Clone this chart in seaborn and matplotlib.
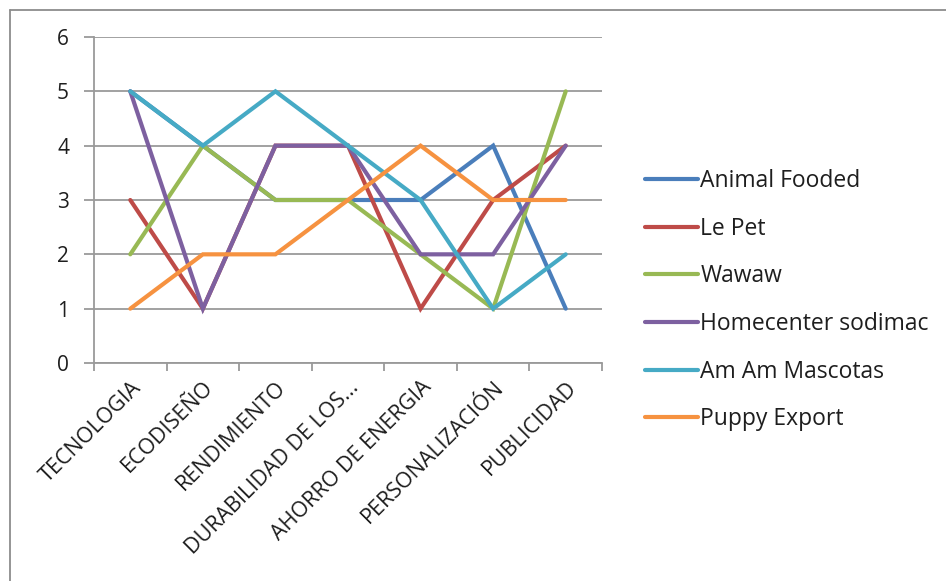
import matplotlib
matplotlib.use("Agg")
import matplotlib.pyplot as plt
from matplotlib.lines import Line2D
from matplotlib.transforms import ScaledTranslation
import seaborn as sns
import pandas as pd
import numpy as np

categories = ["TECNOLOGIA", "ECODISEÑO", "RENDIMIENTO", "DURABILIDAD DE LOS...",
              "AHORRO DE ENERGIA", "PERSONALIZACIÓN", "PUBLICIDAD"]

animal_fooded = [5, 4, 3, 3, 3, 4, 1]
le_pet = [3, 1, 4, 4, 1, 3, 4]
wawaw = [2, 4, 3, 3, 2, 1, 5]
homecenter_sodimac = [5, 1, 4, 4, 2, 2, 4]
am_am_mascotas = [5, 4, 5, 4, 3, 1, 2]
puppy_export = [1, 2, 2, 3, 4, 3, 3]

series_names = ["Animal Fooded", "Le Pet", "Wawaw", "Homecenter sodimac",
                "Am Am Mascotas", "Puppy Export"]
series_values = [animal_fooded, le_pet, wawaw, homecenter_sodimac,
                 am_am_mascotas, puppy_export]
colors = ["#4A7EBB", "#BE4B48", "#98B954", "#7D60A0", "#46AAC5", "#F69240"]

rows = []
for name, vals in zip(series_names, series_values):
    for cat, v in zip(categories, vals):
        rows.append({"categoria": cat, "valor": v, "serie": name})
df = pd.DataFrame(rows)
df["categoria"] = pd.Categorical(df["categoria"], categories=categories, ordered=True)
df["pos"] = df["categoria"].cat.codes

sns.set_theme(style="white")
plt.rcParams["font.family"] = ["Open Sans", "DejaVu Sans"]

W, H = 946, 581
fig = plt.figure(figsize=(W / 100, H / 100), dpi=100)
ax = fig.add_axes([94 / W, 1 - 363 / H, (602 - 94) / W, (363 - 37) / H])

sns.lineplot(data=df, x="pos", y="valor", hue="serie", hue_order=series_names,
             palette=colors, sort=False, linewidth=3.0, ax=ax, legend=False,
             solid_capstyle="round", solid_joinstyle="miter")

grid_color = "#9A9A9A"
text_color = "#1E1E1E"
ax.set_ylim(0, 6)
ax.set_yticks(range(0, 7))
ax.yaxis.grid(True, color=grid_color, linewidth=1.3)
ax.set_axisbelow(True)
ax.set_xlim(-0.5, len(categories) - 0.5)
ax.set_xticks(np.arange(-0.5, len(categories), 1.0))
ax.set_xticklabels([])
ax.set_xticks(range(len(categories)), minor=True)
ax.set_xticklabels(categories, minor=True, rotation=45, ha="right",
                   rotation_mode="anchor", fontsize=15.5, color=text_color)
shift = ScaledTranslation(6 / 100, -6 / 100, fig.dpi_scale_trans)
for lbl in ax.get_xticklabels(minor=True):
    lbl.set_transform(lbl.get_transform() + shift)
ax.tick_params(axis="x", which="minor", length=0, pad=10)
ax.tick_params(axis="x", which="major", length=6, width=1.3, color=grid_color,
               direction="out", bottom=True)
ax.tick_params(axis="y", length=7, width=1.3, color=grid_color, left=True,
               direction="out", labelsize=15, labelcolor=text_color, pad=11)
for side in ["top", "right"]:
    ax.spines[side].set_visible(False)
for side in ["left", "bottom"]:
    ax.spines[side].set_color(grid_color)
    ax.spines[side].set_linewidth(1.3)
ax.set_xlabel("")
ax.set_ylabel("")

handles = [Line2D([0], [0], color=c, linewidth=3.0, solid_capstyle="round")
           for c in colors]
fig.legend(handles, series_names, loc="upper left",
           bbox_to_anchor=(636 / W, 1 - 160 / H), frameon=False,
           fontsize=16.5, handlelength=2.3, handletextpad=0.1,
           labelspacing=1.03, borderaxespad=0, labelcolor=text_color)

# outer chart-area border (left and top edges)
fig.add_artist(Line2D([9.5 / W, 9.5 / W], [0, 1 - 10 / H], transform=fig.transFigure,
                      color="#8C8C8C", linewidth=1.3))
fig.add_artist(Line2D([9.5 / W, 1], [1 - 10 / H, 1 - 10 / H], transform=fig.transFigure,
                      color="#8C8C8C", linewidth=1.3))

fig.savefig("out.png", dpi=100, facecolor="white")
